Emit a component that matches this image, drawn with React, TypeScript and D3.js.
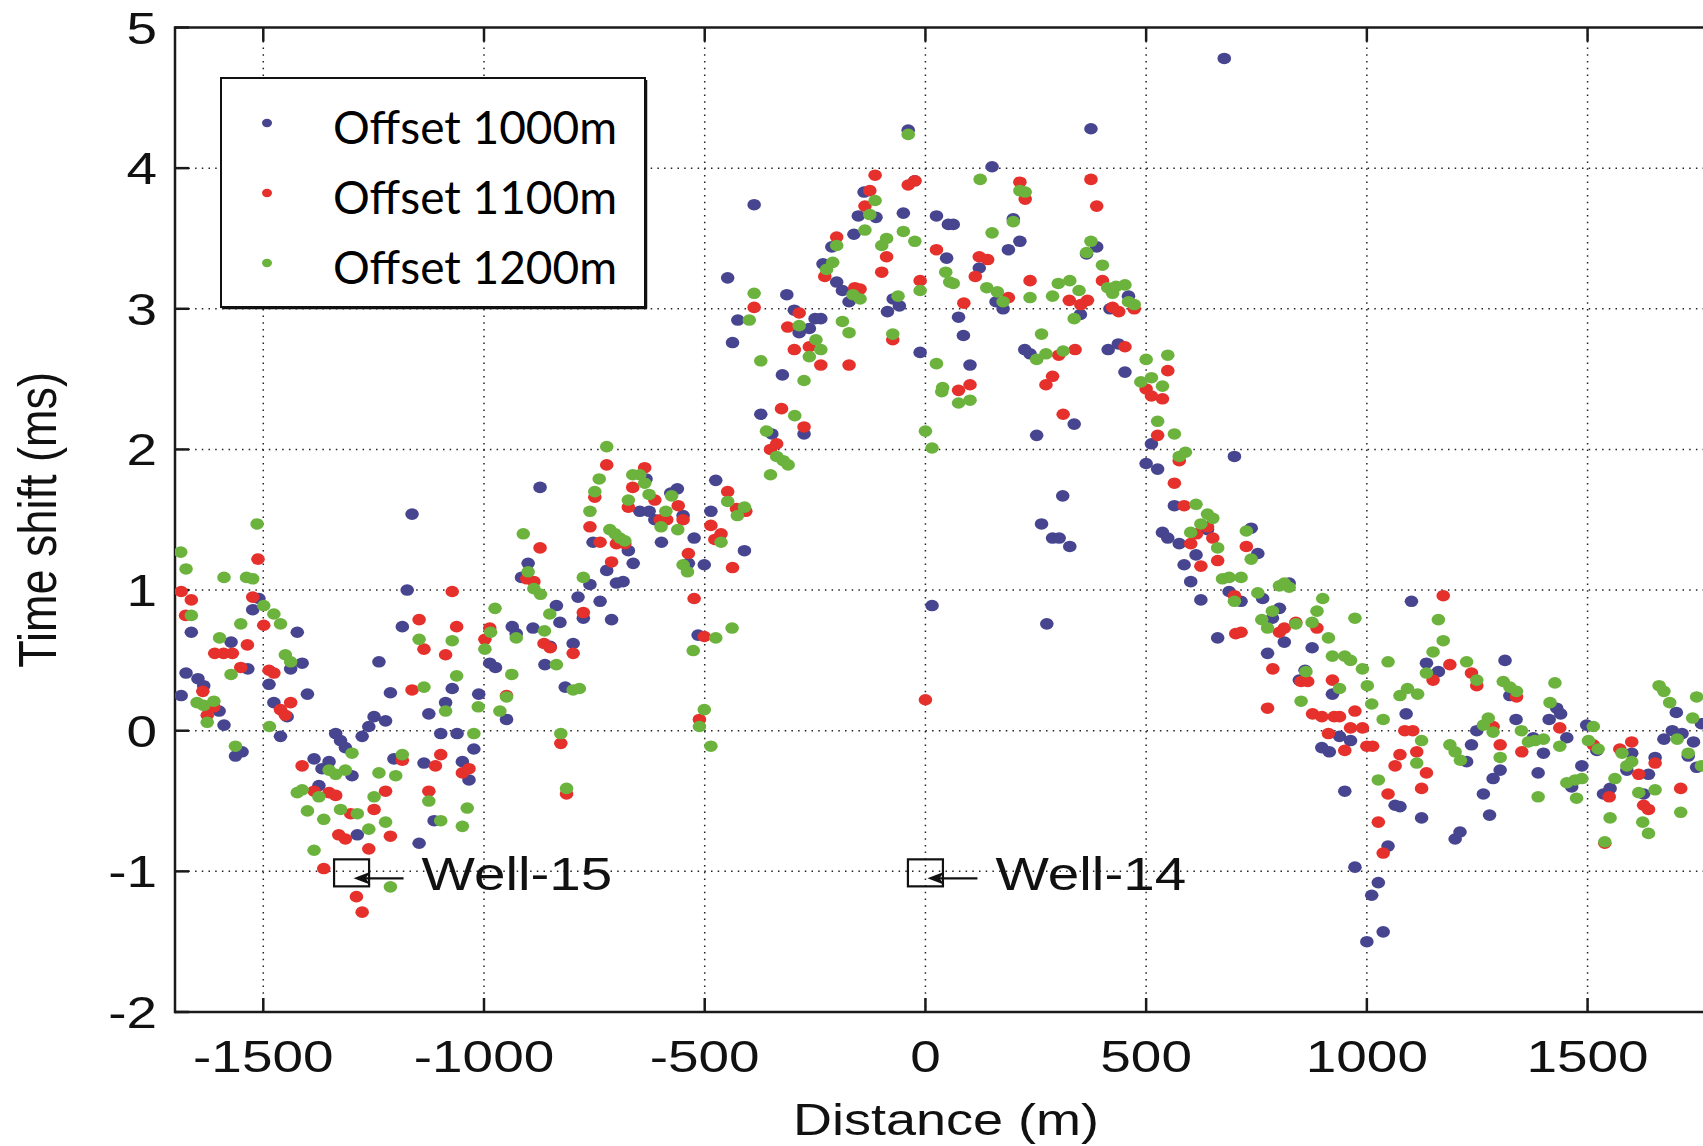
import React from "react";
import * as d3 from "d3";

const W = 1703;
const H = 1146;

const seriesNames = ["Offset 1000m", "Offset 1100m", "Offset 1200m"];
const seriesColors = ["#47458f", "#e5302b", "#6cb33e"];
const distanceTicks = [-1500, -1000, -500, 0, 500, 1000, 1500];
const shiftTicks = [-2, -1, 0, 1, 2, 3, 4, 5];
const wells = [
  { label: "Well-15", distance: -1300, shift: -1 },
  { label: "Well-14", distance: 0, shift: -1 },
];

// [distance (m), time shift (ms)]
const offset1000: [number, number][] = [
  [-1686, 0.25], [-1675, 0.41], [-1663, 0.7], [-1648, 0.37], [-1635, 0.32], [-1600, 0.14], [-1589, 0.04],
  [-1573, 0.63], [-1563, -0.18], [-1548, -0.15], [-1535, 0.44], [-1524, 0.86], [-1510, 0.94], [-1487, 0.33],
  [-1476, 0.2], [-1461, -0.04], [-1446, 0.1], [-1438, 0.44], [-1423, 0.7], [-1412, 0.48], [-1400, 0.26],
  [-1385, -0.2], [-1374, -0.39], [-1367, -0.27], [-1351, -0.22], [-1336, -0.02], [-1325, -0.07], [-1314, -0.12],
  [-1299, -0.32], [-1287, -0.74], [-1276, -0.04], [-1261, 0.03], [-1249, 0.1], [-1238, 0.49], [-1223, 0.07],
  [-1212, 0.27], [-1204, -0.2], [-1185, 0.74], [-1174, 1.0], [-1163, 1.54], [-1147, -0.8], [-1136, -0.23],
  [-1125, 0.12], [-1113, -0.64], [-1098, -0.02], [-1087, 0.2], [-1072, 0.3], [-1061, -0.02], [-1049, -0.22],
  [-1034, -0.35], [-1023, -0.13], [-1012, 0.26], [-987, 0.48], [-974, 0.45], [-949, 0.08], [-936, 0.74],
  [-927, 0.69], [-915, 1.09], [-900, 1.19], [-889, 0.73], [-873, 1.73], [-862, 0.47], [-850, 0.6],
  [-836, 0.89], [-828, 0.77], [-816, 0.31], [-798, 0.62], [-787, 0.95], [-775, 0.8], [-760, 1.04],
  [-753, 1.34], [-737, 0.92], [-722, 1.14], [-711, 0.79], [-700, 1.05], [-685, 1.06], [-673, 1.28],
  [-662, 1.19], [-647, 1.56], [-633, 1.79], [-626, 1.56], [-613, 1.5], [-598, 1.34], [-577, 1.69],
  [-562, 1.72], [-549, 1.53], [-537, 1.19], [-524, 1.37], [-515, 0.68], [-501, 1.18], [-486, 1.56],
  [-475, 1.78], [-448, 3.22], [-437, 2.76], [-425, 2.92], [-410, 1.28], [-388, 3.74], [-373, 2.25],
  [-348, 2.11], [-324, 2.53], [-314, 3.1], [-297, 2.99], [-286, 2.83], [-275, 2.11], [-263, 2.86],
  [-250, 2.93], [-237, 2.93], [-232, 3.32], [-212, 3.44], [-201, 3.19], [-188, 3.13], [-173, 3.05],
  [-162, 3.53], [-152, 3.66], [-139, 3.83], [-112, 3.65], [-86, 2.98], [-73, 3.07], [-59, 3.02],
  [-50, 3.68], [-39, 4.27], [-24, 3.91], [-12, 2.69], [15, 0.89], [25, 3.66], [48, 3.36], [52, 3.6],
  [63, 3.6], [75, 2.94], [86, 2.81], [101, 2.6], [122, 3.29], [151, 4.01], [160, 3.05], [176, 3.0],
  [188, 3.42], [199, 3.64], [214, 3.48], [225, 2.71], [237, 2.68], [252, 2.1], [263, 1.47], [275, 0.76],
  [288, 1.37], [303, 1.37], [311, 1.67], [327, 1.31], [337, 2.18], [351, 2.96], [365, 3.39], [375, 4.28],
  [388, 3.44], [414, 2.71], [418, 3.0], [437, 2.75], [452, 2.55], [460, 3.09], [500, 1.9], [512, 2.04],
  [526, 1.86], [537, 1.41], [549, 1.37], [564, 1.6], [575, 1.33], [586, 1.18], [601, 1.06], [613, 1.25],
  [624, 0.93], [639, 1.43], [662, 0.66], [677, 4.78], [688, 0.99], [700, 1.95], [715, 0.92], [738, 1.44],
  [753, 1.26], [764, 0.94], [775, 0.55], [786, 0.8], [802, 0.87], [813, 0.63], [824, 1.05], [847, 0.36],
  [860, 0.43], [876, 0.59], [898, -0.12], [915, -0.15], [922, 0.26], [938, -0.04], [950, -0.43],
  [963, -0.07], [973, -0.97], [1000, -1.5], [1011, -1.17], [1026, -1.08], [1037, -1.43], [1048, -0.82],
  [1064, -0.53], [1075, -0.54], [1089, 0.12], [1101, 0.92], [1124, -0.62], [1135, 0.48], [1162, 0.42],
  [1200, -0.77], [1211, -0.72], [1226, -0.22], [1237, -0.1], [1249, 0.0], [1264, -0.45], [1275, 0.05],
  [1278, -0.6], [1286, -0.34], [1302, -0.28], [1313, 0.5], [1324, 0.25], [1338, 0.08], [1377, -0.05],
  [1388, -0.3], [1400, -0.16], [1413, 0.08], [1430, 0.16], [1439, 0.12], [1453, -0.05], [1464, -0.4],
  [1487, -0.25], [1498, 0.04], [1521, -0.14], [1536, -0.45], [1551, -0.41], [1589, -0.28], [1600, -0.16],
  [1627, -0.45], [1638, -0.31], [1653, -0.19], [1673, -0.06], [1692, 0.0], [1701, 0.13], [1714, -0.02],
  [1728, -0.18], [1740, -0.08], [1747, -0.26], [1758, 0.05],
];

const offset1100: [number, number][] = [
  [-1686, 0.99], [-1676, 0.82], [-1663, 0.93], [-1637, 0.28], [-1627, 0.11], [-1612, 0.17], [-1610, 0.55],
  [-1590, 0.55], [-1570, 0.55], [-1551, 0.45], [-1536, 0.61], [-1524, 0.95], [-1512, 1.22], [-1499, 0.75],
  [-1487, 0.43], [-1476, 0.41], [-1461, 0.15], [-1450, 0.11], [-1438, 0.2], [-1412, -0.25], [-1385, -0.43],
  [-1363, -0.98], [-1351, -0.44], [-1336, -0.46], [-1329, -0.74], [-1314, -0.77], [-1302, -0.59],
  [-1289, -1.18], [-1276, -1.29], [-1261, -0.84], [-1249, -0.56], [-1223, -0.43], [-1212, -0.75],
  [-1185, -0.21], [-1163, 0.29], [-1147, 0.79], [-1136, 0.58], [-1125, -0.43], [-1110, -0.25], [-1098, -0.17],
  [-1087, 0.54], [-1072, 0.99], [-1062, 0.74], [-1049, -0.3], [-1034, -0.27], [-998, 0.65], [-987, 0.73],
  [-949, 0.25], [-903, 1.08], [-887, 1.06], [-873, 1.3], [-864, 0.62], [-850, 0.59], [-826, -0.09],
  [-813, -0.45], [-798, 0.55], [-775, 0.84], [-760, 1.45], [-749, 1.66], [-737, 1.34], [-722, 1.89],
  [-711, 1.2], [-700, 1.33], [-681, 1.33], [-673, 1.59], [-663, 1.73], [-636, 1.87], [-613, 1.64],
  [-601, 1.5], [-586, 1.5], [-560, 1.6], [-549, 1.5], [-537, 1.26], [-524, 0.94], [-512, 0.08],
  [-501, 0.67], [-486, 1.46], [-477, 1.36], [-463, 1.4], [-448, 1.7], [-437, 1.16], [-428, 1.58],
  [-407, 1.56], [-388, 3.01], [-351, 2.0], [-337, 2.04], [-326, 2.29], [-312, 2.87], [-297, 2.71],
  [-286, 2.97], [-275, 2.16], [-263, 2.73], [-237, 2.6], [-228, 3.23], [-201, 3.51], [-173, 2.6],
  [-160, 3.15], [-148, 3.14], [-137, 3.73], [-126, 3.84], [-114, 3.95], [-99, 3.26], [-88, 3.37],
  [-74, 2.78], [-39, 3.88], [-24, 3.91], [-12, 3.2], [0, 0.22], [25, 3.42], [75, 2.42], [87, 3.04],
  [101, 2.46], [113, 3.23], [122, 3.37], [141, 3.35], [188, 3.08], [214, 3.9], [226, 3.78], [237, 3.2],
  [273, 2.46], [288, 2.52], [302, 2.67], [312, 2.25], [326, 3.06], [339, 2.71], [352, 3.03], [367, 3.06],
  [375, 3.92], [388, 3.73], [401, 3.2], [424, 3.01], [438, 2.98], [452, 2.73], [473, 3.0], [500, 2.43],
  [512, 2.38], [526, 2.1], [537, 2.36], [549, 2.56], [564, 1.76], [575, 1.92], [586, 1.6], [601, 1.33],
  [614, 1.4], [624, 1.17], [639, 1.45], [651, 1.37], [662, 1.21], [700, 0.96], [703, 0.69], [715, 0.7],
  [727, 1.31], [775, 0.16], [787, 0.44], [802, 0.7], [813, 0.73], [839, 0.77], [851, 0.35], [866, 0.35],
  [877, 0.12], [887, 0.73], [898, 0.1], [913, -0.02], [922, 0.36], [926, 0.1], [938, 0.1], [950, -0.14],
  [963, 0.02], [973, 0.14], [990, 0.02], [1000, -0.11], [1013, -0.11], [1026, -0.65], [1037, -0.87],
  [1048, -0.45], [1064, -0.25], [1075, -0.17], [1086, 0.0], [1104, 0.0], [1113, -0.15], [1124, -0.41],
  [1135, -0.3], [1150, 0.36], [1173, 0.96], [1188, 0.47], [1237, 0.41], [1249, 0.32], [1286, 0.03],
  [1302, -0.1], [1339, 0.24], [1351, -0.15], [1437, 0.02], [1513, -0.1], [1539, -0.8], [1549, -0.47],
  [1573, -0.13], [1600, -0.08], [1616, -0.31], [1627, -0.53], [1638, -0.56], [1653, -0.23], [1711, -0.41],
];

const offset1200: [number, number][] = [
  [-1687, 1.27], [-1675, 1.15], [-1663, 0.82], [-1650, 0.2], [-1635, 0.18], [-1627, 0.06], [-1612, 0.21],
  [-1599, 0.66], [-1589, 1.09], [-1573, 0.4], [-1563, -0.11], [-1551, 0.76], [-1538, 1.09], [-1524, 1.08],
  [-1514, 1.47], [-1499, 0.89], [-1486, 0.03], [-1476, 0.83], [-1461, 0.76], [-1450, 0.54], [-1438, 0.49],
  [-1423, -0.44], [-1412, -0.42], [-1400, -0.57], [-1385, -0.85], [-1374, -0.47], [-1363, -0.63],
  [-1351, -0.28], [-1336, -0.31], [-1325, -0.56], [-1314, -0.28], [-1299, -0.16], [-1287, -0.59],
  [-1261, -0.7], [-1249, -0.47], [-1238, -0.3], [-1223, -0.65], [-1212, -1.11], [-1200, -0.32],
  [-1185, -0.17], [-1147, 0.65], [-1136, 0.31], [-1125, -0.5], [-1098, -0.64], [-1087, 0.14], [-1072, 0.64],
  [-1062, 0.39], [-1049, -0.68], [-1038, -0.55], [-1023, -0.02], [-1013, 0.17], [-998, 0.58], [-985, 0.7],
  [-975, 0.87], [-964, 0.14], [-949, 0.24], [-937, 0.4], [-927, 0.66], [-911, 1.4], [-900, 1.13],
  [-887, 1.01], [-872, 0.97], [-863, 0.71], [-851, 0.83], [-836, 0.47], [-826, -0.02], [-813, -0.41],
  [-798, 0.29], [-784, 0.3], [-775, 1.09], [-760, 1.56], [-749, 1.7], [-739, 1.79], [-722, 2.02],
  [-715, 1.43], [-703, 1.4], [-692, 1.37], [-681, 1.35], [-673, 1.64], [-663, 1.82], [-647, 1.82],
  [-636, 1.76], [-626, 1.68], [-599, 1.45], [-588, 1.56], [-575, 1.67], [-561, 1.43], [-549, 1.18],
  [-539, 1.13], [-526, 0.57], [-512, 0.03], [-501, 0.15], [-486, -0.11], [-475, 0.66], [-463, 1.34],
  [-448, 1.63], [-438, 0.73], [-426, 1.53], [-410, 1.59], [-399, 2.92], [-388, 3.11], [-373, 2.63],
  [-360, 2.13], [-351, 1.82], [-337, 1.95], [-322, 1.92], [-311, 1.89], [-296, 2.24], [-286, 2.88],
  [-275, 2.49], [-263, 2.66], [-248, 2.78], [-237, 2.71], [-224, 3.28], [-210, 3.33], [-201, 3.45],
  [-188, 2.91], [-173, 2.83], [-164, 3.1], [-148, 3.07], [-137, 3.56], [-126, 3.67], [-114, 3.77],
  [-99, 3.45], [-88, 3.5], [-74, 2.82], [-62, 3.09], [-50, 3.55], [-39, 4.24], [-24, 3.48], [-12, 3.13],
  [0, 2.13], [15, 2.01], [25, 2.61], [37, 2.41], [39, 2.44], [46, 3.26], [55, 3.19], [63, 3.18],
  [75, 2.33], [101, 2.35], [124, 3.92], [139, 3.15], [151, 3.54], [163, 3.12], [176, 3.05], [199, 3.62],
  [214, 3.84], [226, 3.83], [237, 3.08], [252, 2.64], [263, 2.82], [273, 2.68], [288, 3.09], [301, 3.18],
  [312, 2.7], [327, 3.2], [337, 2.93], [348, 3.13], [365, 3.4], [375, 3.48], [401, 3.31], [413, 3.15],
  [424, 3.11], [432, 3.16], [452, 3.17], [460, 3.05], [473, 3.03], [488, 2.48], [500, 2.64], [512, 2.51],
  [526, 2.2], [537, 2.45], [549, 2.67], [564, 2.11], [575, 1.95], [589, 1.98], [601, 1.41], [613, 1.61],
  [624, 1.47], [639, 1.54], [651, 1.51], [662, 1.3], [673, 1.08], [688, 1.09], [700, 0.92], [715, 1.09],
  [727, 1.42], [738, 1.22], [753, 0.98], [762, 0.79], [775, 0.73], [786, 0.85], [802, 1.03], [813, 1.05],
  [824, 1.02], [839, 0.76], [851, 0.21], [862, 0.42], [876, 0.77], [887, 0.85], [900, 0.94], [913, 0.66],
  [922, 0.53], [938, 0.3], [950, 0.53], [963, 0.5], [973, 0.8], [990, 0.44], [1001, 0.32], [1011, 0.19],
  [1026, -0.35], [1037, 0.08], [1048, 0.49], [1075, 0.25], [1092, 0.3], [1113, -0.23], [1115, 0.26],
  [1124, -0.07], [1135, 0.41], [1150, 0.56], [1162, 0.79], [1173, 0.64], [1188, -0.1], [1200, -0.15],
  [1212, -0.21], [1226, 0.49], [1249, 0.36], [1264, 0.04], [1275, 0.09], [1286, -0.01], [1302, -0.19],
  [1309, 0.35], [1324, 0.31], [1339, 0.28], [1350, 0.0], [1366, -0.08], [1381, -0.07], [1388, -0.47],
  [1400, -0.06], [1415, 0.2], [1426, 0.34], [1437, -0.11], [1453, -0.37], [1472, -0.35], [1475, -0.48],
  [1487, -0.34], [1502, -0.07], [1513, 0.03], [1524, -0.13], [1539, -0.79], [1551, -0.62], [1562, -0.34],
  [1578, -0.16], [1589, -0.25], [1600, -0.22], [1616, -0.44], [1625, -0.65], [1638, -0.73], [1653, -0.42],
  [1662, 0.32], [1673, 0.28], [1686, 0.2], [1703, -0.06], [1711, -0.58], [1728, -0.16], [1738, 0.09],
  [1747, 0.24], [1758, -0.25],
];

const allSeries = [offset1000, offset1100, offset1200];

const AXIS_FONT = "'Liberation Sans', Arial, Helvetica, sans-serif";
const STRETCH = 1.22;

export default function App() {
  const x = d3.scaleLinear().domain([-1700, 1800]).range([175, 1720]);
  const y = d3.scaleLinear().domain([-2, 5]).range([1012, 27.5]);
  const left = x(-1700);
  const right = x(1800);
  const top = y(5);
  const bottom = y(-2);
  const tickLen = 14;
  const axisColor = "#1a1a1a";

  return (
    <svg
      width={W}
      height={H}
      style={{ position: "absolute", left: 0, top: 0 }}
      xmlns="http://www.w3.org/2000/svg"
    >
      <rect x={0} y={0} width={W} height={H} fill="#ffffff" />
      <defs>
        <clipPath id="plotClip">
          <rect x={left} y={top} width={right - left} height={bottom - top} />
        </clipPath>
      </defs>

      {/* grid */}
      <g stroke="#222" strokeWidth={1.5} strokeDasharray="1.5 5.2" fill="none">
        {distanceTicks.map((t) => (
          <line key={"gx" + t} x1={x(t)} x2={x(t)} y1={top} y2={bottom} />
        ))}
        {shiftTicks
          .filter((t) => t > -2 && t < 5)
          .map((t) => (
            <line key={"gy" + t} x1={left} x2={right} y1={y(t)} y2={y(t)} />
          ))}
      </g>

      {/* frame and ticks */}
      <g stroke={axisColor} strokeWidth={2.5} fill="none">
        <line x1={left} x2={left} y1={top - 1.2} y2={bottom + 1.2} />
        <line x1={left} x2={right} y1={top} y2={top} />
        <line x1={left} x2={right} y1={bottom} y2={bottom} />
        <line x1={right} x2={right} y1={top} y2={bottom} />
        {distanceTicks.map((t) => (
          <g key={"tx" + t}>
            <line x1={x(t)} x2={x(t)} y1={bottom} y2={bottom - tickLen} />
            <line x1={x(t)} x2={x(t)} y1={top} y2={top + tickLen} />
          </g>
        ))}
        {shiftTicks.map((t) => (
          <line key={"ty" + t} x1={left} x2={left + tickLen} y1={y(t)} y2={y(t)} />
        ))}
      </g>

      {/* data */}
      <g clipPath="url(#plotClip)">
        {allSeries.map((s, si) => (
          <g key={"s" + si} fill={seriesColors[si]}>
            {s.map((d, i) => (
              <ellipse key={i} cx={x(d[0])} cy={y(d[1])} rx={6.8} ry={5.8} />
            ))}
          </g>
        ))}
      </g>

      {/* tick labels */}
      <g fontFamily={AXIS_FONT} fontSize={45} fill="#111">
        {distanceTicks.map((t) => (
          <g key={"lx" + t} transform={`translate(${x(t)},1072) scale(${STRETCH},1)`}>
            <text textAnchor="middle">{String(t)}</text>
          </g>
        ))}
        {shiftTicks.map((t) => (
          <g key={"ly" + t} transform={`translate(157,${y(t) + 16}) scale(${STRETCH},1)`}>
            <text textAnchor="end">{String(t)}</text>
          </g>
        ))}
      </g>

      {/* axis titles */}
      <g fontFamily={AXIS_FONT} fontSize={45} fill="#111">
        <g transform={`translate(946,1135) scale(1.2,1)`}>
          <text textAnchor="middle">Distance (m)</text>
        </g>
        <g transform={`translate(56,520) scale(1.2,1) rotate(-90)`}>
          <text textAnchor="middle">Time shift (ms)</text>
        </g>
      </g>

      {/* well annotations */}
      {wells.map((w) => {
        const cx = x(w.distance);
        const cy = y(w.shift) + 1.5;
        const ay = cy + 5.5;
        const tip = cx + 2;
        return (
          <g key={w.label}>
            <rect x={cx - 17.5} y={cy - 13.5} width={35} height={27} fill="none" stroke="#111" strokeWidth={2.2} />
            <line x1={tip + 10} x2={cx + 52} y1={ay} y2={ay} stroke="#111" strokeWidth={2.2} />
            <path
              d={`M${tip},${ay} L${tip + 17},${ay - 6.5} L${tip + 12},${ay} L${tip + 17},${ay + 6.5} Z`}
              fill="#111"
            />
            <g transform={`translate(${cx + 70},890) scale(1.23,1)`}>
              <text fontFamily={AXIS_FONT} fontSize={46} fill="#111">
                {w.label}
              </text>
            </g>
          </g>
        );
      })}

      {/* legend */}
      <g>
        <rect x={221} y={78} width={424} height={229} fill="#fff" stroke="#111" strokeWidth={2} />
        <line x1={646} x2={646} y1={80} y2={308.5} stroke="#111" strokeWidth={2.5} />
        <line x1={223} x2={647} y1={308} y2={308} stroke="#111" strokeWidth={2.5} />
        {seriesNames.map((n, i) => {
          const ly = 123 + i * 70;
          return (
            <g key={n}>
              <ellipse cx={267} cy={ly} rx={5} ry={4.2} fill={seriesColors[i]} />
              <text
                x={333}
                y={ly + 21}
                fontFamily="Lato, 'Open Sans', sans-serif"
                fontSize={46}
                fill="#000"
                textLength={284}
                lengthAdjust="spacingAndGlyphs"
              >
                {n}
              </text>
            </g>
          );
        })}
      </g>
    </svg>
  );
}
